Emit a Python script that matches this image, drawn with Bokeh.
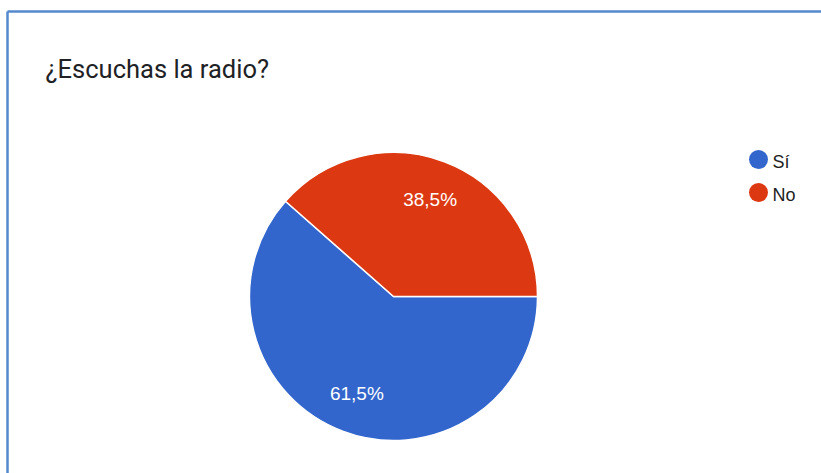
import math
from bokeh.plotting import figure
from bokeh.models import Range1d, ColumnDataSource
from bokeh.core.properties import value
from bokeh.embed import file_html
from bokeh.resources import INLINE

title = "¿Escuchas la radio?"
categories = ["Sí", "No"]
shares = [61.5, 38.5]
labels = ["61,5%", "38,5%"]
colors = ["#3366CC", "#DC3912"]

W, H = 821, 473
PAGE_H = 473

def Y(py):
    return PAGE_H - py

p = figure(width=W, height=H, output_backend="svg", toolbar_location=None,
           x_range=Range1d(0, W), y_range=Range1d(Y(H), Y(0)),
           min_border=0, outline_line_color=None, background_fill_color="white",
           border_fill_color="white")
p.axis.visible = False
p.xgrid.visible = False
p.ygrid.visible = False

# frame border (top + left)
p.segment(x0=[7, 7], y0=[Y(11), Y(11)], x1=[821, 7], y1=[Y(11), Y(473)],
          line_color="#5588CC", line_width=2.5)

# title
p.text(x=[45], y=[Y(68)], text=[title], text_font=value("Roboto"),
       text_font_size="25.5px", text_color="#202124", text_baseline="alphabetic")

# pie
cx, cy, R = 393, Y(296), 144
total = sum(shares)
starts, ends, lx, ly = [], [], [], []
cum = 0.0
for s in shares:
    a0 = -2 * math.pi * cum / total
    cum += s
    a1 = -2 * math.pi * cum / total
    starts.append(a1)
    ends.append(a0)
    mid = (a0 + a1) / 2
    lx.append(cx + 0.72 * R * math.cos(mid))
    ly.append(cy + 0.72 * R * math.sin(mid))

src = ColumnDataSource(dict(start=starts, end=ends, color=colors, lab=labels, lx=lx, ly=ly))
p.wedge(x=cx, y=cy, radius=R, radius_units="screen", start_angle="start", end_angle="end",
        fill_color="color", line_color="white", line_width=1.5, source=src)
p.text(x="lx", y="ly", text="lab", source=src, text_font=value("Liberation Sans"),
       text_font_size="19px", text_color="white", text_align="center", text_baseline="middle")

# legend
leg_y = [Y(159 + 33 * i) for i in range(len(categories))]
p.scatter(x=[758] * len(categories), y=leg_y, size=19, marker="circle",
          fill_color=colors, line_color=None)
p.text(x=[772] * len(categories), y=[v - 2 for v in leg_y], text=categories,
       text_font=value("Liberation Sans"), text_font_size="18px", text_color="#222222",
       text_baseline="middle")

open("out.html", "w").write(file_html(p, INLINE))
